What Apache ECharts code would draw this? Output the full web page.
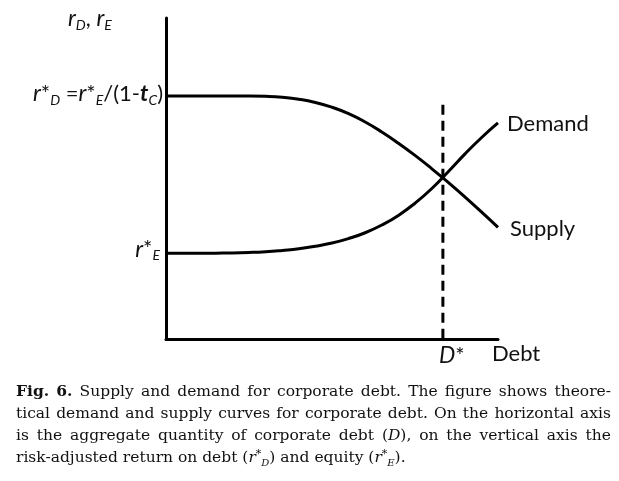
<!DOCTYPE html>
<html>
<head>
<meta charset="utf-8">
<script src="https://cdn.jsdelivr.net/npm/echarts@6/dist/echarts.min.js"></script>
<style>
html,body{margin:0;padding:0;background:#fff;}
#c{width:619px;height:481px;}
</style>
</head>
<body>
<div id="c"></div>
<script>
// ---- data (schematic, in arbitrary units 0..100) ----
const debtX       = [0, 5, 10, 15, 20, 25, 30, 35, 40, 45, 50, 55, 60, 65, 70, 75, 80, 85, 90, 95, 100];
const supplyY     = [75.7, 75.7, 75.7, 75.7, 75.7, 75.7, 75.6, 75.3, 74.7, 73.7, 72.2, 70.2, 67.6, 64.5, 61.0, 57.2, 53.1, 48.8, 44.3, 39.6, 34.8];
const demandY     = [26.7, 26.7, 26.7, 26.75, 26.8, 26.95, 27.2, 27.6, 28.1, 28.9, 29.9, 31.3, 33.1, 35.5, 38.5, 42.3, 46.8, 52.1, 57.6, 62.7, 67.3];
const dStar       = 83.4;      // equilibrium quantity D*
const dStarTop    = 73.0;      // top of dashed guide
const yLevelHigh  = 75.7;      // r*_D = r*_E/(1-t_C)
const yLevelLow   = 26.7;      // r*_E
const seriesNames = ['Supply', 'Demand'];
const captionLines = [
  '{b|Fig.} {b|6.} Supply and demand for corporate debt. The figure shows theore-',
  'tical demand and supply curves for corporate debt. On the horizontal axis',
  'is the aggregate quantity of corporate debt ({i|D}), on the vertical axis the',
  'risk-adjusted return on debt ({i|r}{sup|*}{sub|D}) and equity ({i|r}{sup|*}{sub|E}).'
];

const chart = echarts.init(document.getElementById('c'));
const black = '#000';
chart.setOption({
  animation: false,
  backgroundColor: '#fff',
  grid: {left: 166, top: 18, width: 332, height: 321},
  xAxis: {type: 'value', min: 0, max: 100,
    axisLine: {show: true, lineStyle: {color: black, width: 3}},
    axisTick: {show: false}, axisLabel: {show: false}, splitLine: {show: false}},
  yAxis: {type: 'value', min: 0, max: 100,
    axisLine: {show: true, lineStyle: {color: black, width: 3}},
    axisTick: {show: false}, axisLabel: {show: false}, splitLine: {show: false}},
  series: [
    {name: seriesNames[0], type: 'line', smooth: 0.5, showSymbol: false,
     lineStyle: {color: black, width: 3}, clip: false,
     data: debtX.map((x, i) => [x, supplyY[i]])},
    {name: seriesNames[1], type: 'line', smooth: 0.5, showSymbol: false,
     lineStyle: {color: black, width: 3}, clip: false,
     data: debtX.map((x, i) => [x, demandY[i]])},
    {name: 'D*', type: 'line', showSymbol: false, clip: false, silent: true,
     lineStyle: {color: black, width: 3, type: [10, 6]},
     data: [[dStar, dStarTop], [dStar, -1.6]]}
  ]
});

const P = (x, y) => chart.convertToPixel({gridIndex: 0}, [x, y]);
const sf = 'Lato';
const sansRich = {
  n: {fontFamily: sf, fontSize: 22, fill: '#111'},
  i: {fontFamily: sf, fontSize: 23, fontStyle: 'italic', fill: '#111'},
  ib: {fontFamily: sf, fontSize: 23, fontStyle: 'italic', fontWeight: 'bold', fill: '#111'},
  sub: {fontFamily: sf, fontSize: 14, fontStyle: 'italic', fill: '#111', padding: [13, 0, 0, 0]}
};
const graphics = [];
function sansText(text, x, y, align) {
  graphics.push({type: 'text', x: x, y: y, silent: true,
    style: {text: text, align: align || 'left', verticalAlign: 'middle',
      fontFamily: sf, fontSize: 22, fill: '#111', rich: sansRich}});
}
const last = debtX.length - 1;
const endS = P(debtX[last], supplyY[last]);
const endD = P(debtX[last], demandY[last]);
sansText('{n|Demand}', endD[0] + 9, endD[1] + 1);
sansText('{n|Supply}', endS[0] + 12, endS[1] + 2);
const origin = P(0, 0);
const ds = P(dStar, 0);
sansText('{i|D}{n|*}', ds[0] - 4, origin[1] + 17);
sansText('{n|Debt}', P(100, 0)[0] - 6, origin[1] + 15);
const hi = P(0, yLevelHigh), lo = P(0, yLevelLow);
sansText('{i|r}{n|*}{sub|D} {n|=}{i|r}{n|*}{sub|E}{n|/(1-}{ib|t}{sub|C}{n|)}', hi[0] - 3, hi[1] - 2, 'right');
sansText('{i|r}{n|*}{sub|E}', lo[0] - 6, lo[1] - 4, 'right');
sansText('{i|r}{sub|D}{n|, }{i|r}{sub|E}', 68, 19);

// ---- caption, justified ----
const serif = '"DejaVu Serif", serif';
const capSize = 15.5;
const capRich = {
  r: {fontFamily: serif, fontSize: capSize, fill: '#111'},
  b: {fontFamily: serif, fontSize: capSize, fontWeight: 'bold', fill: '#111'},
  i: {fontFamily: serif, fontSize: capSize, fontStyle: 'italic', fill: '#111'},
  sup: {fontFamily: serif, fontSize: 11, fill: '#111', padding: [0, 0, 8, 0]},
  sub: {fontFamily: serif, fontSize: 10, fontStyle: 'italic', fill: '#111', padding: [10, 0, 0, 0]}
};
const mctx = document.createElement('canvas').getContext('2d');
function fontOf(st) {
  const s = capRich[st];
  return (s.fontStyle || 'normal') + ' ' + (s.fontWeight || 'normal') + ' ' + s.fontSize + 'px ' + s.fontFamily;
}
function segs(word) {
  const out = []; const re = /\{(\w+)\|([^}]*)\}|([^{]+)/g; let m;
  while ((m = re.exec(word))) out.push(m[1] ? [m[1], m[2]] : ['r', m[3]]);
  return out;
}
function wordWidth(word) {
  return segs(word).reduce((w, s) => { mctx.font = fontOf(s[0]); return w + mctx.measureText(s[1]).width; }, 0);
}
function richStr(word) { return segs(word).map(s => '{' + s[0] + '|' + s[1] + '}').join(''); }
const capLeft = 16, capRight = 611, capTop = 392, capPitch = 22;
captionLines.forEach((line, li) => {
  const words = line.split(' ');
  const widths = words.map(wordWidth);
  const total = widths.reduce((a, b) => a + b, 0);
  const justify = li < captionLines.length - 1;
  mctx.font = fontOf('r');
  const gap = justify ? (capRight - capLeft - total) / (words.length - 1) : mctx.measureText(' ').width;
  let x = capLeft;
  words.forEach((w, wi) => {
    graphics.push({type: 'text', x: x, y: capTop + li * capPitch, silent: true,
      style: {text: richStr(w), align: 'left', verticalAlign: 'middle', rich: capRich,
        fontFamily: serif, fontSize: capSize, fill: '#111'}});
    x += widths[wi] + gap;
  });
});
chart.setOption({graphic: graphics});
</script>
</body>
</html>
